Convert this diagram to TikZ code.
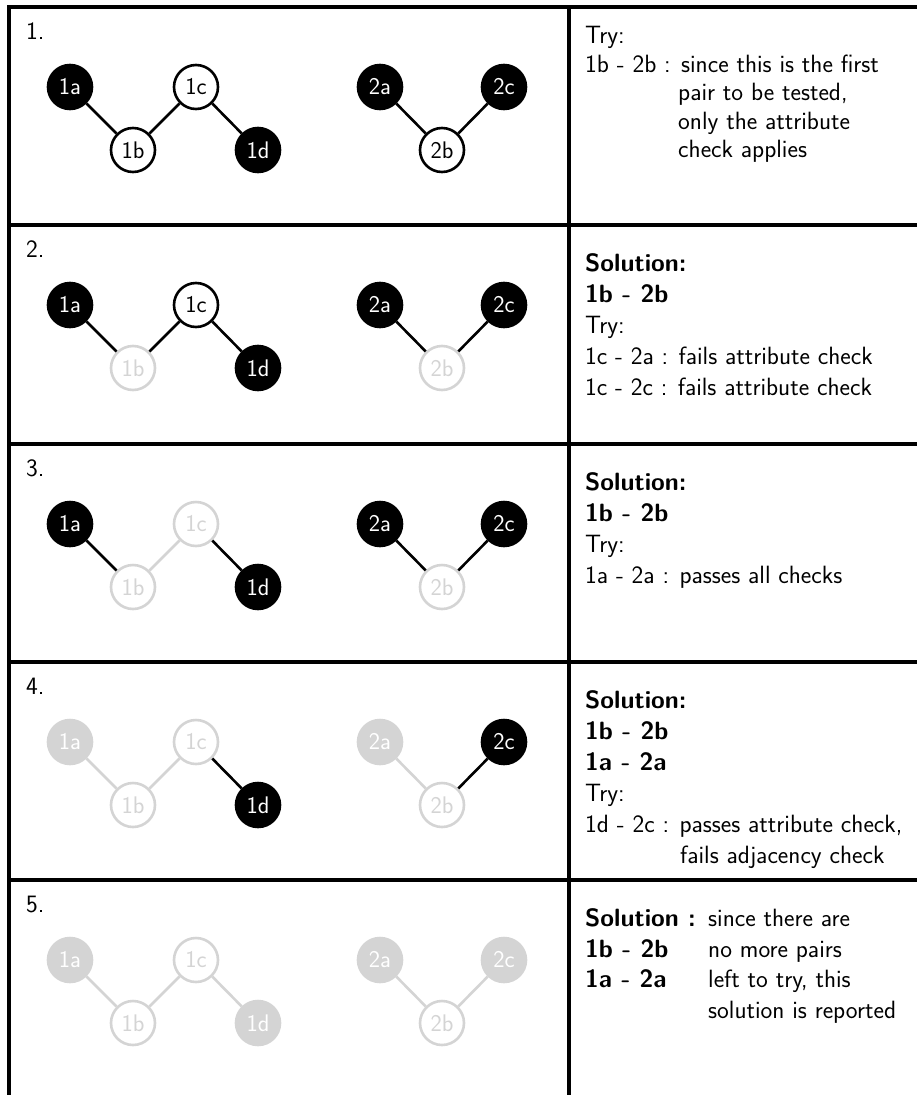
\documentclass[tikz,border=0pt]{standalone}
\usepackage{fontspec}
\definecolor{fade}{RGB}{212,212,212}
\newcommand\bodyfont{\sffamily\fontsize{25}{25}\selectfont}
\newcommand\labfont{\sffamily\fontsize{24}{24}\selectfont}
\tikzset{
  gnode/.style={circle, minimum size=44pt, inner sep=0pt, line width=2.6pt, font=\labfont},
  nodeon/.style={draw=black, fill=black, text=white},
  nodeopen/.style={draw=black, fill=white, text=black},
  nodefon/.style={draw=fade, fill=fade, text=white},
  nodefopen/.style={draw=fade, fill=white, text=fade},
  edgek/.style={draw=black, line width=2.6pt},
  edgeg/.style={draw=fade, line width=2.6pt},
  rule/.style={line width=3.5pt},
  txt/.style={anchor=base west, inner sep=0pt, font=\bodyfont},
}
\begin{document}
\begin{tikzpicture}[x=1pt,y=-1pt]
\useasboundingbox (0,0) rectangle (917,1095);
\fill[white] (0,0) rectangle (917,1095);

% table frame
\draw[rule, line join=miter] (9,1095) -- (9,7) -- (917,7);
\draw[rule] (569,7) -- (569,1095);
\foreach \yy in {225,444,662,880} \draw[rule] (9,\yy) -- (917,\yy);

% the two graphs of each step
\foreach \i/\T/\nA/\nB/\nC/\nD/\nE/\nF/\nG/\eA/\eB/\eC/\eD/\eE in {
  1/7/nodeon/nodeopen/nodeopen/nodeon/nodeon/nodeopen/nodeon/edgek/edgek/edgek/edgek/edgek,
  2/225/nodeon/nodefopen/nodeopen/nodeon/nodeon/nodefopen/nodeon/edgek/edgek/edgek/edgek/edgek,
  3/444/nodeon/nodefopen/nodefopen/nodeon/nodeon/nodefopen/nodeon/edgek/edgeg/edgek/edgek/edgek,
  4/662/nodefon/nodefopen/nodefopen/nodeon/nodefon/nodefopen/nodeon/edgeg/edgeg/edgek/edgeg/edgek,
  5/880/nodefon/nodefopen/nodefopen/nodefon/nodefon/nodefopen/nodefon/edgeg/edgeg/edgeg/edgeg/edgeg}
{
  \node[txt] (num\i) at (26,\T+32) {\i.};
  \node[gnode,\nA] (a\i) at (70,\T+80)  {1a};
  \node[gnode,\nB] (b\i) at (133,\T+143) {1b};
  \node[gnode,\nC] (c\i) at (196,\T+80) {1c};
  \node[gnode,\nD] (d\i) at (258,\T+143) {1d};
  \node[gnode,\nE] (e\i) at (380,\T+80) {2a};
  \node[gnode,\nF] (f\i) at (442,\T+143) {2b};
  \node[gnode,\nG] (g\i) at (504,\T+80) {2c};
  \draw[\eA] (a\i) -- (b\i);
  \draw[\eB] (b\i) -- (c\i);
  \draw[\eC] (c\i) -- (d\i);
  \draw[\eD] (e\i) -- (f\i);
  \draw[\eE] (f\i) -- (g\i);
}

% step 1
\node[txt] (s1l1) at (585,43)    {Try:};
\node[txt] (s1l2) at (585,72)    {1b - 2b : since this is the first};
\node[txt] (s1l3) at (678,100.5) {pair to be tested,};
\node[txt] (s1l4) at (678,129)   {only the attribute};
\node[txt] (s1l5) at (678,157.5) {check applies};

% step 2
\node[txt] (s2l1) at (585,271.5) {\bfseries Solution:};
\node[txt] (s2l2) at (585,302.5) {\bfseries 1b - 2b};
\node[txt] (s2l3) at (585,333.5) {Try:};
\node[txt] (s2l4) at (585,364.5) {1c - 2a : fails attribute check};
\node[txt] (s2l5) at (585,395.5) {1c - 2c : fails attribute check};

% step 3
\node[txt] (s3l1) at (585,490.5) {\bfseries Solution:};
\node[txt] (s3l2) at (585,521.5) {\bfseries 1b - 2b};
\node[txt] (s3l3) at (585,552.5) {Try:};
\node[txt] (s3l4) at (585,583.5) {1a - 2a : passes all checks};

% step 4
\node[txt] (s4l1) at (585,708.5) {\bfseries Solution:};
\node[txt] (s4l2) at (585,739.5) {\bfseries 1b - 2b};
\node[txt] (s4l3) at (585,770.5) {\bfseries 1a - 2a};
\node[txt] (s4l4) at (585,801.5) {Try:};
\node[txt] (s4l5) at (585,832.5) {1d - 2c : passes attribute check,};
\node[txt] (s4l6) at (680,863)   {fails adjacency check};

% step 5
\node[txt] (s5l1) at (585,926.5) {\bfseries Solution :};
\node[txt] (s5l2) at (585,957)   {\bfseries 1b - 2b};
\node[txt] (s5l3) at (585,987.5) {\bfseries 1a - 2a};
\node[txt] (s5r1) at (708,926.5) {since there are};
\node[txt] (s5r2) at (708,957)   {no more pairs};
\node[txt] (s5r3) at (708,987.5) {left to try, this};
\node[txt] (s5r4) at (708,1018)  {solution is reported};
\end{tikzpicture}
\end{document}
